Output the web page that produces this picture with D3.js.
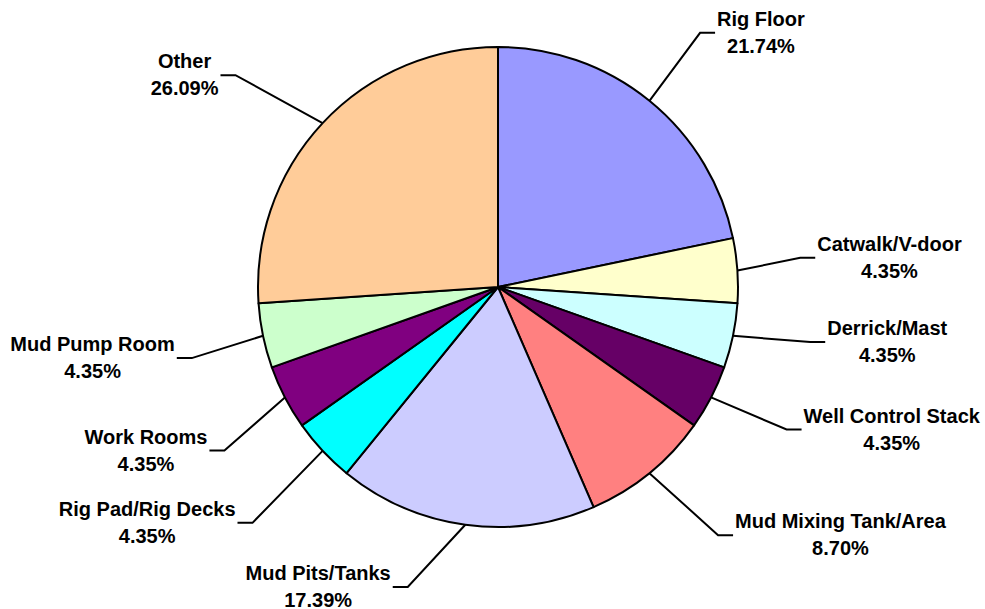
<!DOCTYPE html>
<html>
<head>
<meta charset="utf-8">
<script src="https://cdn.jsdelivr.net/npm/d3@7"></script>
<style>
  html, body { margin: 0; padding: 0; background: #fff; }
  svg { display: block; }
  text { font-family: "Liberation Sans", Arial, sans-serif; font-weight: bold; font-size: 20px; fill: #000; }
</style>
</head>
<body>
<svg id="chart" width="985" height="609"></svg>
<script>
// ---- data ----
const categories = ["Rig Floor", "Catwalk/V-door", "Derrick/Mast", "Well Control Stack",
  "Mud Mixing Tank/Area", "Mud Pits/Tanks", "Rig Pad/Rig Decks", "Work Rooms",
  "Mud Pump Room", "Other"];
const percents = [21.74, 4.35, 4.35, 4.35, 8.70, 17.39, 4.35, 4.35, 4.35, 26.09];
const colors = ["#9999FF", "#FFFFCC", "#CCFFFF", "#660066", "#FF8080",
  "#CCCCFF", "#00FFFF", "#800080", "#CCFFCC", "#FFCC99"];
// label placement nudges (pixels) relative to default leader elbow
const labelNudge = [[-3, -2], [-22, -7], [-6, -11], [0, -7], [15, -4],
  [-46, -22], [-8, 14], [15, 14], [12, 5], [-25, 10]];

// ---- layout ----
const cx = 498, cy = 287, R = 240, elbowR = 325, tick = 15, lineH = 27;
const svg = d3.select("#chart");
const g = svg.append("g").attr("transform", `translate(${cx},${cy})`);

const data = categories.map((c, i) => ({ name: c, value: percents[i], color: colors[i], nudge: labelNudge[i] }));
const pie = d3.pie().sort(null).value(d => d.value);
const arc = d3.arc().innerRadius(0).outerRadius(R);
const arcs = pie(data);

g.selectAll("path.slice").data(arcs).join("path")
  .attr("class", "slice")
  .attr("d", arc)
  .attr("fill", d => d.data.color)
  .attr("stroke", "#000")
  .attr("stroke-width", 2)
  .attr("stroke-linejoin", "round");

const polar = (a, r) => [r * Math.sin(a), -r * Math.cos(a)];

arcs.forEach(d => {
  const mid = (d.startAngle + d.endAngle) / 2;
  const p0 = polar(mid, R);
  const base = polar(mid, elbowR);
  const p1 = [base[0] + d.data.nudge[0], base[1] + d.data.nudge[1]];
  const right = Math.sin(mid) >= 0;
  const p2 = [p1[0] + (right ? tick : -tick), p1[1]];
  g.append("path")
    .attr("d", d3.line()([p0, p1, p2]))
    .attr("fill", "none")
    .attr("stroke", "#000")
    .attr("stroke-width", 2);

  const t = g.append("text").attr("text-anchor", "middle");
  const l1 = t.append("tspan").text(d.data.name);
  const l2 = t.append("tspan").text(d3.format(".2f")(d.data.value) + "%");
  const w = Math.max(l1.node().getComputedTextLength(), l2.node().getComputedTextLength());
  const tx = right ? p2[0] + w / 2 + 2 : p2[0] - w / 2 - 2;
  const by = p2[1] - 7;
  l1.attr("x", tx).attr("y", by);
  l2.attr("x", tx).attr("y", by + lineH);
});
</script>
</body>
</html>
